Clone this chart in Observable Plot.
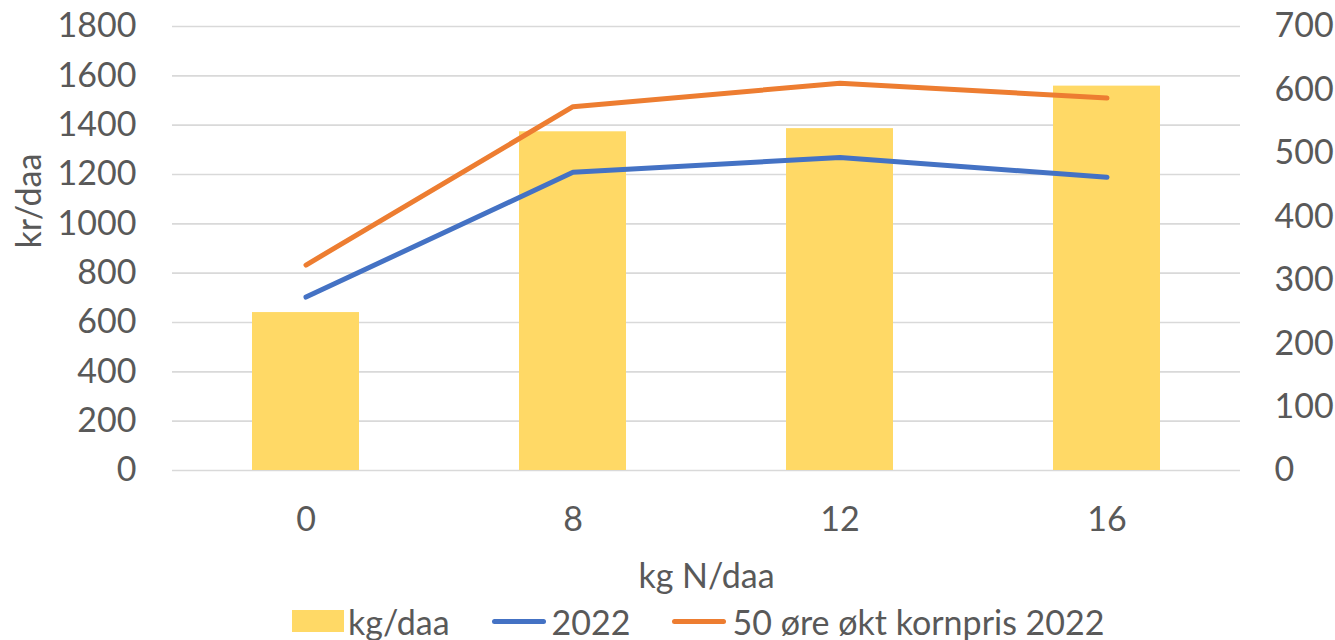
<!DOCTYPE html>
<html>
<head>
<meta charset="utf-8">
<script src="https://cdn.jsdelivr.net/npm/d3@7"></script>
<script src="https://cdn.jsdelivr.net/npm/@observablehq/plot@0.6"></script>
<style>
  html, body { margin: 0; padding: 0; background: #fff; }
  body { width: 1335px; font-family: Lato, "Open Sans", sans-serif; color: #595959; }
  #chart svg { display: block; }
  #legend { display: flex; align-items: center; height: 46px; margin-left: 292px; margin-top: 0px; font-size: 34px; color: #595959; }
  #legend .item { display: flex; align-items: center; margin-right: 42px; }
  #legend .sw-bar { width: 52px; height: 22px; background: #FFD966; margin-right: 4px; }
  #legend .sw-line { width: 54px; height: 5px; border-radius: 3px; margin-right: 6px; }
</style>
</head>
<body>
<div id="chart"></div>
<div id="legend"></div>
<script>
// Data
const categories = ["0", "8", "12", "16"];
const yieldKg = [249, 534, 539, 606];            // kg/daa (right axis)
const kr2022 = [703, 1209, 1269, 1189];          // kr/daa, 2022
const krPlus50 = [833, 1475, 1570, 1510];        // kr/daa, 50 øre økt kornpris 2022
const leftTicks = [0, 200, 400, 600, 800, 1000, 1200, 1400, 1600, 1800];
const rightTicks = [0, 100, 200, 300, 400, 500, 600, 700];
const seriesNames = ["kg/daa", "2022", "50 øre økt kornpris 2022"];
const colors = ["#FFD966", "#4472C4", "#ED7D31"];

const leftMax = 1800, rightMax = 700;
const k = leftMax / rightMax;

const rows = categories.map((c, i) => ({n: c, kg: yieldKg[i], a: kr2022[i], b: krPlus50[i]}));

const chart = Plot.plot({
  width: 1335,
  height: 598,
  marginLeft: 172,
  marginRight: 95,
  marginTop: 26,
  marginBottom: 128,
  style: {fontFamily: "Lato, 'Open Sans', sans-serif", fontSize: "34px", color: "#595959", background: "#fff"},
  x: {domain: categories, paddingInner: 0.6, paddingOuter: 0.3},
  y: {domain: [0, leftMax]},
  marks: [
    Plot.gridY(leftTicks, {stroke: "#D9D9D9", strokeOpacity: 1, strokeWidth: 1.6}),
    Plot.barY(rows, {x: "n", y: d => d.kg * k, fill: colors[0]}),
    Plot.lineY(rows, {x: "n", y: "a", stroke: colors[1], strokeWidth: 5, strokeLinecap: "round", strokeLinejoin: "round"}),
    Plot.lineY(rows, {x: "n", y: "b", stroke: colors[2], strokeWidth: 5, strokeLinecap: "round", strokeLinejoin: "round"}),
    Plot.axisY(leftTicks, {anchor: "left", tickSize: 0, tickPadding: 36, label: null, fill: "#595959",
      tickFormat: d => String(d)}),
    Plot.axisY(rightTicks.map(v => v * k), {anchor: "right", tickSize: 0, tickPadding: 34, label: null, fill: "#595959",
      tickFormat: d => String(Math.round(d / k))}),
    Plot.axisX({tickSize: 0, tickPadding: 36, label: null, fill: "#595959"}),
    Plot.text(["kr/daa"], {frameAnchor: "left", dx: -142, rotate: -90, fill: "#595959", fontSize: 34}),
    Plot.text(["kg N/daa"], {frameAnchor: "bottom", dy: 117, fill: "#595959", fontSize: 34})
  ]
});
document.getElementById("chart").appendChild(chart);

// Legend
const legend = document.getElementById("legend");
seriesNames.forEach((name, i) => {
  const item = document.createElement("div");
  item.className = "item";
  const sw = document.createElement("div");
  if (i === 0) { sw.className = "sw-bar"; }
  else { sw.className = "sw-line"; sw.style.background = colors[i]; }
  const label = document.createElement("span");
  label.textContent = name;
  item.appendChild(sw);
  item.appendChild(label);
  legend.appendChild(item);
});
</script>
</body>
</html>
